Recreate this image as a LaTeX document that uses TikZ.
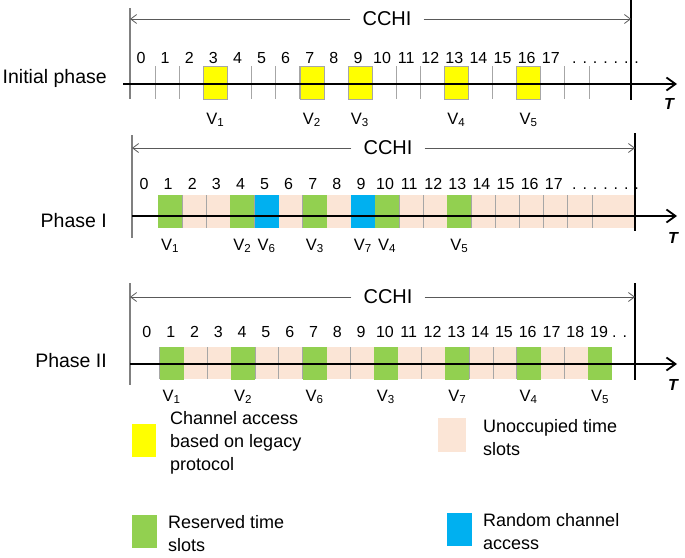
\documentclass[tikz,border=0pt]{standalone}
\usepackage{fontspec}
\setmainfont{Liberation Sans}
\usetikzlibrary{arrows.meta, positioning}

\definecolor{legacy}{HTML}{FFFF00}
\definecolor{reserved}{HTML}{92D050}
\definecolor{random}{HTML}{00B0F0}
\definecolor{unoccupied}{HTML}{FBE5D6}
\definecolor{tickgray}{HTML}{A6A6A6}
\definecolor{cchigray}{HTML}{595959}

\begin{document}
\begin{tikzpicture}[x=1pt, y=-1pt,
		num/.style={font=\fontsize{16}{16}\selectfont, inner sep=0pt, anchor=base},
		vlab/.style={font=\fontsize{16.5}{16}\selectfont, inner sep=0pt, anchor=base},
		phase/.style={font=\fontsize{19.5}{20}\selectfont, inner sep=0pt, anchor=base east},
		cchi/.style={font=\fontsize{20}{20}\selectfont, inner xsep=12pt, inner ysep=0pt},
		tlab/.style={font=\fontsize{16}{16}\selectfont\bfseries\itshape, inner sep=0pt},
		slotbox/.style={minimum width=24pt, minimum height=33pt, inner sep=0pt, draw=tickgray, line width=0.4pt},
		tickline/.style={tickgray, line width=0.8pt},
		cchiarrow/.style={-{Straight Barb[length=6pt,width=9pt]}, cchigray, line width=0.8pt},
		axisline/.style={-{Straight Barb[length=9pt,width=13pt]}, line width=1.8pt},
		endline/.style={line width=1.8pt},
		startline/.style={gray, line width=1.3pt},
		legbox/.style={minimum width=25pt, minimum height=33pt, inner sep=0pt, anchor=north west},
		legtext/.style={font=\fontsize{18}{23}\selectfont, align=left, inner sep=0pt, anchor=base west}]

	\useasboundingbox (0,0) rectangle (685,557);

	% Initial phase
	\def\slotx{131}\def\slotw{24.1}
	\node[phase] (p0) at (107,83) {Initial phase};
	\coordinate (l0t) at (130,8); \coordinate (l0b) at (130,99);
	\coordinate (r0t) at (631,0); \coordinate (r0b) at (631,100);
	\draw[startline] (l0t) -- (l0b);
	\draw[endline] (r0t) -- (r0b);
	\node[cchi] (c0) at (387,19) {CCHI};
	\path (c0) edge[cchiarrow] (l0t |- c0)
	      (c0) edge[cchiarrow] (r0t |- c0);
	\foreach \k in {1,...,19}
		\draw[tickline] (\slotx+\k*\slotw,66) -- (\slotx+\k*\slotw,99);
	\foreach \k/\v in {3/1,7/2,9/3,13/4,16/5} {
		\node[slotbox, fill=legacy] (i\k) at (\slotx+\k*\slotw+\slotw/2,82.5) {};
		\node[vlab] (iv\k) at (\slotx+\k*\slotw+\slotw/2,124) {V\textsubscript{\v}};
	}
	\coordinate (a0s) at (123,84); \coordinate (a0e) at (677,84);
	\draw[axisline] (a0s) -- (a0e);
	\node[tlab] (t0) at (669,104) {T};
	\foreach \k in {0,...,17}
		\node[num] (n0-\k) at (\slotx+\k*\slotw+\slotw/2-2,63) {\k};
	\node[num, anchor=base west] (d0) at (572,63) {. . . . . . .};

	% Phase I
	\def\slotx{134}\def\slotw{24.1}
	\node[phase] (p1) at (107,227) {Phase I};
	\coordinate (l1t) at (132,135); \coordinate (l1b) at (132,238);
	\coordinate (r1t) at (635,133); \coordinate (r1b) at (635,231);
	\fill[unoccupied] (\slotx+\slotw,195) rectangle (635,228);
	\foreach \k in {1,...,19}
		\draw[tickline] (\slotx+\k*\slotw,195) -- (\slotx+\k*\slotw,228);
	\draw[startline] (l1t) -- (l1b);
	\draw[endline] (r1t) -- (r1b);
	\node[cchi] (c1) at (388,148) {CCHI};
	\path (c1) edge[cchiarrow] (l1t |- c1)
	      (c1) edge[cchiarrow] (r1t |- c1);
	\foreach \k/\c/\v in {1/reserved/1,4/reserved/2,5/random/6,7/reserved/3,9/random/7,10/reserved/4,13/reserved/5} {
		\node[slotbox, fill=\c, draw=none] (s\k) at (\slotx+\k*\slotw+\slotw/2,211.5) {};
		\node[vlab] (sv\k) at (\slotx+\k*\slotw+\slotw/2,250) {V\textsubscript{\v}};
	}
	\coordinate (a1s) at (132,216); \coordinate (a1e) at (677,216);
	\draw[axisline] (a1s) -- (a1e);
	\node[tlab] (t1) at (673,238) {T};
	\foreach \k in {0,...,17}
		\node[num] (n1-\k) at (\slotx+\k*\slotw+\slotw/2-2,189) {\k};
	\node[num, anchor=base west] (d1) at (572,189) {. . . . . . .};

	% Phase II
	\def\slotx{136}\def\slotw{23.8}
	\node[phase] (p2) at (107,367) {Phase II};
	\coordinate (l2t) at (130,283); \coordinate (l2b) at (130,385);
	\coordinate (r2t) at (635,283); \coordinate (r2b) at (635,380);
	\fill[unoccupied] (\slotx+\slotw,347) rectangle (\slotx+20*\slotw,379);
	\foreach \k in {1,...,19}
		\draw[tickline] (\slotx+\k*\slotw,347) -- (\slotx+\k*\slotw,379);
	\draw[startline] (l2t) -- (l2b);
	\draw[endline] (r2t) -- (r2b);
	\node[cchi] (c2) at (388,297) {CCHI};
	\path (c2) edge[cchiarrow] (l2t |- c2)
	      (c2) edge[cchiarrow] (r2t |- c2);
	\foreach \k/\v in {1/1,4/2,7/6,10/3,13/7,16/4,19/5} {
		\node[slotbox, fill=reserved, draw=none] (u\k) at (\slotx+\k*\slotw+\slotw/2,363) {};
		\node[vlab] (uv\k) at (\slotx+\k*\slotw+\slotw/2,401) {V\textsubscript{\v}};
	}
	\coordinate (a2s) at (130,364); \coordinate (a2e) at (677,364);
	\draw[axisline] (a2s) -- (a2e);
	\node[tlab] (t2) at (673,385) {T};
	\foreach \k in {0,...,19}
		\node[num] (n2-\k) at (\slotx+\k*\slotw+\slotw/2-1,337) {\k};
	\node[num, anchor=base west] (d2) at (612,337) {. . .};

	% legend (base = last line)
	\node[legbox, fill=legacy, minimum width=24pt] (ly) at (132,424) {};
	\node[legtext] (lyt) at (170,470) {Channel access\\based on legacy\\protocol};
	\node[legbox, fill=reserved] (lg) at (132,515) {};
	\node[legtext] (lgt) at (168,551) {Reserved time\\slots};
	\node[legbox, fill=unoccupied, minimum width=28pt, minimum height=34pt] (lp) at (438,418) {};
	\node[legtext] (lpt) at (483,455) {Unoccupied time\\slots};
	\node[legbox, fill=random] (lb) at (447,513) {};
	\node[legtext] (lbt) at (483,549) {Random channel\\access};

\end{tikzpicture}
\end{document}
